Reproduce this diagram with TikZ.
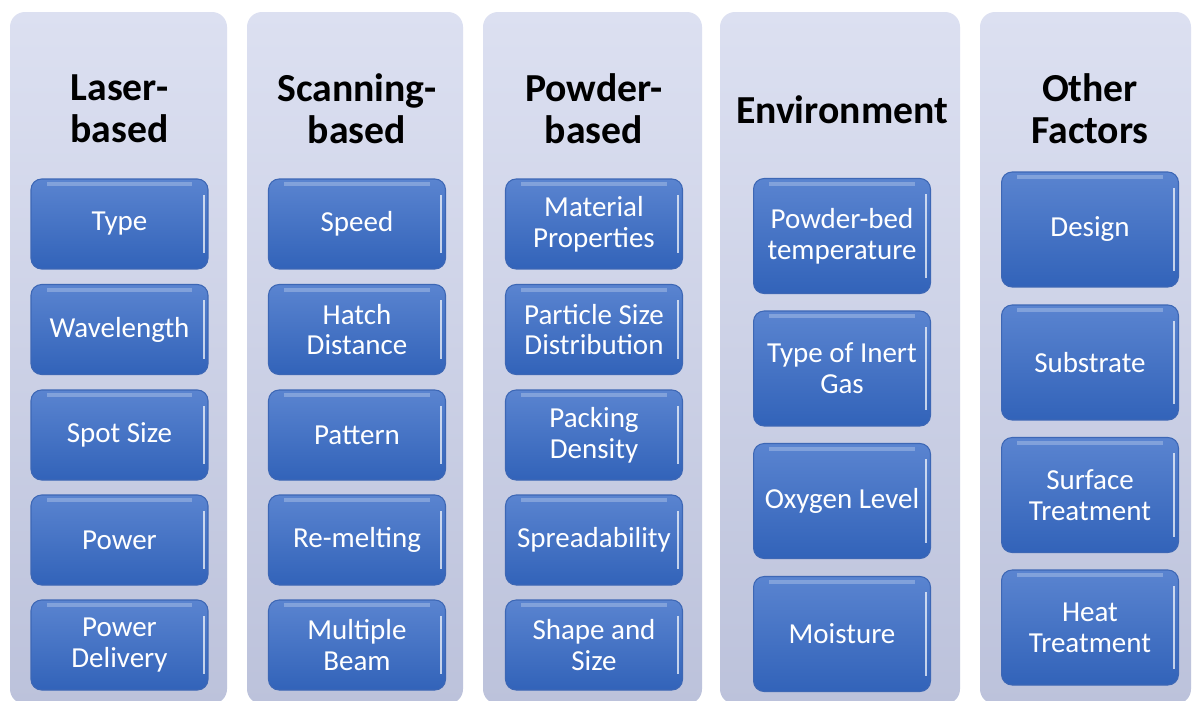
\documentclass[tikz,border=0pt]{standalone}
\usepackage{fontspec}
\setmainfont{Carlito}
\usepackage{xcolor}
\usepackage{tikz}
\definecolor{panelTop}{HTML}{DCE0F1}
\definecolor{panelBottom}{HTML}{BCC2DB}
\definecolor{boxTop}{HTML}{5A84D0}
\definecolor{boxBottom}{HTML}{3263B9}
\definecolor{boxEdge}{HTML}{3D67B5}

\tikzset{
  panel/.style={rounded corners=0.3cm, top color=panelTop, bottom color=panelBottom},
  heading/.style={font=\fontsize{22.6}{24}\selectfont\bfseries, text=black, align=center},
  factor/.style={rounded corners=6pt, top color=boxTop, bottom color=boxBottom,
    draw=boxEdge, line width=0.6pt, text=white, align=center,
    font=\fontsize{16.5}{17.6}\selectfont, minimum width=3.54cm, minimum height=1.8cm,
    inner sep=2pt,
    path picture={
      \draw[white, opacity=0.25, line width=2.5pt]
        ([xshift=9pt,yshift=-3pt]path picture bounding box.north west) --
        ([xshift=-9pt,yshift=-3pt]path picture bounding box.north east);
      \draw[white, opacity=0.7, line width=1.2pt]
        ([xshift=-2.5pt,yshift=-9pt]path picture bounding box.north east) --
        ([xshift=-2.5pt,yshift=9pt]path picture bounding box.south east);
    }},
  tall/.style={minimum height=2.3cm}
}

\begin{document}
\begin{tikzpicture}[x=0.02cm, y=-0.02cm]
  \useasboundingbox (0,0) rectangle (1192,700);
  \fill[white] (0,0) rectangle (1192,700);

  % columns
  \shade[panel] (10,12) rectangle (227,704);
  \shade[panel] (247,12) rectangle (463,704);
  \shade[panel] (483,12) rectangle (702,704);
  \shade[panel] (720,12) rectangle (960,704);
  \shade[panel] (980,12) rectangle (1191,704);

  \node[heading] (laserHead) at (119.5,109) {Laser-\\based};
  \node[heading] (scanHead) at (357,109) {Scanning-\\based};
  \node[heading] (powderHead) at (594,109) {Powder-\\based};
  \node[heading] (envHead) at (842,110) {Environment};
  \node[heading] (otherHead) at (1090,109) {Other\\Factors};

  % laser-based
  \node[factor] (laserType) at (119.5,224) {Type};
  \node[factor] (laserWave) at (119.5,329.5) {Wavelength};
  \node[factor] (laserSpot) at (119.5,435) {Spot Size};
  \node[factor] (laserPower) at (119.5,540) {Power};
  \node[factor] (laserDelivery) at (119.5,645) {Power\\Delivery};

  % scanning-based
  \node[factor] (scanSpeed) at (357,224) {Speed};
  \node[factor] (scanHatch) at (357,329.5) {Hatch\\Distance};
  \node[factor] (scanPattern) at (357,435) {Pattern};
  \node[factor] (scanRemelt) at (357,540) {Re-melting};
  \node[factor] (scanBeam) at (357,645) {Multiple\\Beam};

  % powder-based
  \node[factor] (powderMat) at (594,224) {Material\\Properties};
  \node[factor] (powderPsd) at (594,329.5) {Particle Size\\Distribution};
  \node[factor] (powderPack) at (594,435) {Packing\\Density};
  \node[factor] (powderSpread) at (594,540) {Spreadability};
  \node[factor] (powderShape) at (594,645) {Shape and\\Size};

  % environment
  \node[factor, tall] (envBed) at (842,236) {Powder-bed\\temperature};
  \node[factor, tall] (envGas) at (842,368.5) {Type of Inert\\Gas};
  \node[factor, tall] (envOxygen) at (842,501) {Oxygen Level};
  \node[factor, tall] (envMoist) at (842,634) {Moisture};

  % other factors
  \node[factor, tall] (otherDesign) at (1090,229.5) {Design};
  \node[factor, tall] (otherSub) at (1090,362.5) {Substrate};
  \node[factor, tall] (otherSurf) at (1090,495) {Surface\\Treatment};
  \node[factor, tall] (otherHeat) at (1090,627.5) {Heat\\Treatment};
\end{tikzpicture}
\end{document}
